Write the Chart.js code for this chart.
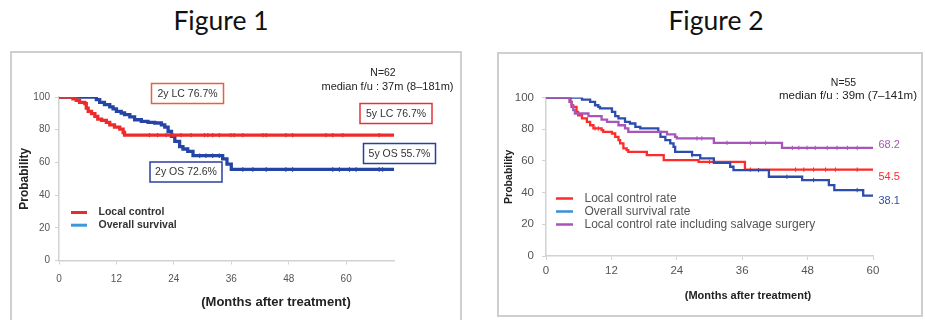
<!DOCTYPE html>
<html>
<head>
<meta charset="utf-8">
<script src="https://cdn.jsdelivr.net/npm/chart.js@4.4.1/dist/chart.umd.min.js"></script>
<style>
  body { margin: 0; width: 925px; height: 320px; background: #fff; position: relative; overflow: hidden; }
  .fig { position: absolute; width: 200px; text-align: center; font-family: Lato, "Open Sans", sans-serif; font-size: 26.5px; line-height: 1.2; color: #111; }
  .box { position: absolute; border: 2px solid #cfcfcf; box-sizing: border-box; }
  canvas { position: absolute; }
</style>
</head>
<body>
<div class="fig" style="left:121px; top:5px;">Figure 1</div>
<div class="fig" style="left:616px; top:5px;">Figure 2</div>
<div class="box" style="left:10px; top:51px; width:452px; height:290px;"></div>
<div class="box" style="left:497px; top:52px; width:426px; height:265px;"></div>
<canvas id="c1" width="452" height="269" style="left:10px; top:51px;"></canvas>
<canvas id="c2" width="426" height="265" style="left:497px; top:52px;"></canvas>
<script>
// ---- Figure 1 data (months, % probability) ----
const lcTime1 = [0, 2.9, 3.6, 4.3, 5.4, 5.7, 6.1, 6.8, 7.5, 8.1, 8.9, 9.9, 10.6, 11.6, 12.7, 13.4, 13.7, 70];
const lcSurv1 = [100, 98.8, 97.9, 96.7, 95.9, 93.2, 91.2, 89.8, 88.1, 86.5, 85.7, 84.5, 83.0, 81.6, 80.4, 78.3, 76.7, 76.7];
const lcCens1 = [18.9, 20.6, 22.4, 23.8, 25.5, 27.6, 30.4, 31.1, 32.1, 33.5, 35.9, 36.6, 38.4, 42.6, 43.3, 47.4, 48.8, 55.8, 57.2, 59.3, 66.9];
const osTime1 = [0, 7.8, 8.5, 9.5, 10.6, 11.3, 12.0, 13.0, 13.7, 14.8, 15.8, 17.2, 18.6, 20.0, 21.4, 22.1, 22.8, 23.5, 24.2, 25.2, 25.9, 26.9, 28.0, 34.2, 35.1, 36.0, 70];
const osSurv1 = [100, 98.4, 96.7, 95.3, 93.9, 92.7, 91.2, 90.2, 89.2, 87.8, 86.1, 85.1, 84.5, 84.1, 83.0, 81.6, 78.9, 75.9, 72.8, 69.7, 68.2, 66.7, 64.1, 62.2, 59.0, 55.7, 55.7];
const osCens1 = [29.4, 30.7, 32.1, 33.5, 38.4, 40.5, 43.3, 47.4, 48.8, 57.2, 58.6, 60.7, 62.1, 66.9, 67.6];
const labels1 = ['Local control', 'Overall survival'];
const boxLabels1 = ['2y LC 76.7%', '5y LC 76.7%', '2y OS 72.6%', '5y OS 55.7%'];
const header1 = ['N=62', 'median f/u : 37m (8\u2013181m)'];

// ---- Figure 2 data ----
const lcTime2 = [0, 4.5, 4.7, 5.6, 5.9, 6.6, 7.5, 8.1, 8.7, 10.2, 10.5, 12.1, 12.7, 13.3, 13.6, 14.2, 14.8, 15.1, 18.5, 21.6, 28.0, 36.5, 60];
const lcSurv2 = [100, 97.2, 94.1, 90.9, 88.8, 86.8, 84.6, 82.5, 80.5, 79.4, 78.3, 77.3, 75.2, 73.1, 71.0, 67.9, 66.8, 65.7, 63.6, 60.5, 59.4, 54.5, 54.5];
const lcCens2 = [9.0, 9.6, 30.0, 37.5, 45.8, 47.3, 49.1, 51.3, 53.1, 57.1];
const osTime2 = [0, 6.6, 8.1, 9.0, 9.6, 9.9, 12.1, 12.7, 13.3, 14.5, 15.4, 16.4, 17.3, 20.6, 21.0, 21.9, 22.8, 23.4, 23.7, 26.8, 28.3, 30.8, 33.8, 34.4, 40.9, 47.0, 51.9, 52.9, 58.2, 60];
const osSurv2 = [100, 98.7, 97.2, 95.1, 94.1, 93.1, 90.9, 88.2, 86.8, 84.6, 83.6, 81.5, 80.5, 78.3, 75.2, 73.1, 71.0, 68.9, 65.7, 63.6, 61.6, 58.8, 56.3, 54.2, 50.0, 47.9, 44.7, 41.6, 38.1, 38.1];
const osCens2 = [26.8, 39.0, 44.2, 49.1, 57.1];
const saTime2 = [0, 4.3, 4.7, 5.0, 5.3, 7.8, 10.2, 11.2, 13.3, 14.5, 15.1, 22.2, 23.7, 24.0, 30.8, 43.3, 60];
const saSurv2 = [100, 97.2, 95.1, 92.0, 89.9, 88.2, 86.1, 84.6, 82.5, 80.5, 78.3, 76.7, 75.2, 74.2, 71.4, 68.2, 68.2];
const saCens2 = [27.7, 28.6, 33.2, 37.5, 40.3, 45.2, 46.4, 47.9, 49.4, 51.6, 53.4, 55.3, 57.1];
const labels2 = ['Local control rate', 'Overall survival rate', 'Local control rate including salvage surgery'];
const header2 = ['N=55', 'median f/u : 39m (7\u2013141m)'];

const xTicks = [0, 12, 24, 36, 48, 60];
const yTicks = [0, 20, 40, 60, 80, 100];
const xTitle = '(Months after treatment)';
const yTitle = 'Probability';

const FONT = '"Liberation Sans", Arial, sans-serif';
Chart.defaults.font.family = FONT;

function stepData(times, surv) {
  return times.map((t, i) => ({ x: t, y: surv[i] }));
}
// survival value in force at time t (for censor ticks)
function survAt(times, surv, t) {
  let v = surv[0];
  for (let i = 0; i < times.length; i++) if (times[i] <= t) v = surv[i];
  return v;
}
function censData(cens, times, surv) {
  return cens.map(t => ({ x: t, y: survAt(times, surv, t) }));
}
function curve(label, times, surv, color, w) {
  return { label: label, data: stepData(times, surv), stepped: true, borderColor: color,
           borderWidth: w, pointRadius: 0, fill: false };
}
function ticks(label, cens, times, surv, color, w) {
  return { label: label, data: censData(cens, times, surv), showLine: false, pointStyle: 'line',
           pointRotation: 90, pointRadius: 2.2, pointBorderWidth: w, borderColor: color, pointBorderColor: color };
}
function axes(xMax, o) {
  return {
    x: {
      type: 'linear', min: 0, max: xMax,
      afterBuildTicks: s => { s.ticks = xTicks.map(v => ({ value: v })); },
      afterFit: s => { s.height = 30; },
      grid: { drawOnChartArea: false, tickLength: 4, color: '#d2d2d2' },
      border: { color: '#d2d2d2', width: 1.5 },
      ticks: { padding: o.xPad, color: '#555', font: { size: o.tickSize }, maxRotation: 0, autoSkip: false }
    },
    y: {
      min: 0, max: 100,
      afterBuildTicks: s => { s.ticks = yTicks.map(v => ({ value: v })); },
      afterFit: s => { s.width = 49; },
      grid: { drawOnChartArea: false, tickLength: 4, color: '#d2d2d2' },
      border: { color: '#d2d2d2', width: 1.5 },
      ticks: { padding: o.yPad, color: '#555', font: { size: o.tickSize } },
      title: { display: true, text: yTitle, color: '#222', font: { size: o.yTitleSize, weight: 'bold' },
               padding: { top: o.yTitlePad, bottom: 0 } }
    }
  };
}

const RED1 = '#ee2b2b', BLUE1 = '#2545a6', LEG_BLUE1 = '#3a9ad9';
const RED2 = '#ff2a2a', BLUE2 = '#2c4dae', PURPLE2 = '#a755b8', LEG_BLUE2 = '#3b8fd8';

const fig1Notes = {
  id: 'fig1Notes',
  afterDraw(chart) {
    const ctx = chart.ctx;
    ctx.save();
    ctx.textBaseline = 'middle';
    ctx.textAlign = 'center';
    ctx.fillStyle = '#222';
    ctx.font = '10.5px ' + FONT;
    ctx.fillText(header1[0], 373, 22.5);
    ctx.font = '11px ' + FONT;
    ctx.fillText(header1[1], 377.5, 36);
    // boxed rates
    const boxes = [[141.5, 32.5, '#e9603e'], [350, 52.5, '#e23434'], [140, 111, '#2b3f9e'], [353.5, 92.5, '#2b3f9e']];
    boxes.forEach(([x, y, c], i) => {
      ctx.fillStyle = '#fff';
      ctx.fillRect(x, y, 72, 20);
      ctx.strokeStyle = c;
      ctx.lineWidth = 1.5;
      ctx.strokeRect(x, y, 72, 20);
      ctx.fillStyle = '#333';
      ctx.font = '10.5px ' + FONT;
      ctx.fillText(boxLabels1[i], x + 36, y + 10.5);
    });
    // legend
    const legColors = [RED1, LEG_BLUE1];
    ctx.textAlign = 'left';
    ctx.font = 'bold 10.5px ' + FONT;
    labels1.forEach((lab, i) => {
      const y = 161.5 + i * 12.7;
      ctx.strokeStyle = legColors[i];
      ctx.lineWidth = 3;
      ctx.beginPath(); ctx.moveTo(61, y); ctx.lineTo(77, y); ctx.stroke();
      ctx.fillStyle = '#333';
      ctx.fillText(lab, 88.5, y);
    });
    // x title
    ctx.textAlign = 'center';
    ctx.fillStyle = '#222';
    ctx.font = 'bold 13px ' + FONT;
    ctx.fillText(xTitle, 266, 251);
    ctx.restore();
  }
};

const fig2Notes = {
  id: 'fig2Notes',
  afterDraw(chart) {
    const ctx = chart.ctx, xs = chart.scales.x, ys = chart.scales.y;
    ctx.save();
    ctx.textBaseline = 'middle';
    ctx.textAlign = 'center';
    ctx.fillStyle = '#222';
    ctx.font = '10.5px ' + FONT;
    ctx.fillText(header2[0], 346.5, 31);
    ctx.font = '11.5px ' + FONT;
    ctx.fillText(header2[1], 351, 44);
    // end-of-curve values
    const ends = [[saTime2, saSurv2, PURPLE2, -3], [lcTime2, lcSurv2, RED2, 7.5], [osTime2, osSurv2, BLUE2, 5.5]];
    ctx.textAlign = 'left';
    ctx.font = '11px ' + FONT;
    ends.forEach(([t, s, c, dy]) => {
      const last = s[s.length - 1];
      ctx.fillStyle = c;
      ctx.fillText(last.toFixed(1), xs.getPixelForValue(t[t.length - 1]) + 5.5, ys.getPixelForValue(last) + dy);
    });
    // legend
    const legColors = [RED2, LEG_BLUE2, PURPLE2];
    ctx.font = '12px ' + FONT;
    labels2.forEach((lab, i) => {
      const y = 146.5 + i * 13;
      ctx.strokeStyle = legColors[i];
      ctx.lineWidth = 2.5;
      ctx.beginPath(); ctx.moveTo(59, y); ctx.lineTo(76, y); ctx.stroke();
      ctx.fillStyle = '#555';
      ctx.fillText(lab, 87.5, y);
    });
    ctx.textAlign = 'center';
    ctx.fillStyle = '#222';
    ctx.font = 'bold 11px ' + FONT;
    ctx.fillText(xTitle, 251, 244);
    ctx.restore();
  }
};

new Chart(document.getElementById('c1'), {
  type: 'line',
  data: {
    datasets: [
      curve(labels1[0], lcTime1, lcSurv1, RED1, 3.3),
      ticks('lc censored', lcCens1, lcTime1, lcSurv1, RED1, 1.2),
      curve(labels1[1], osTime1, osSurv1, BLUE1, 3.3),
      ticks('os censored', osCens1, osTime1, osSurv1, BLUE1, 1.2)
    ]
  },
  options: {
    responsive: false,
    animation: false,
    layout: { padding: { left: 0, top: 46, right: 68, bottom: 29.5 } },
    scales: axes(70, { xPad: 9, yPad: 5, tickSize: 10, yTitleSize: 12, yTitlePad: 7 }),
    plugins: { legend: { display: false }, tooltip: { enabled: false } }
  },
  plugins: [fig1Notes]
});

new Chart(document.getElementById('c2'), {
  type: 'line',
  data: {
    datasets: [
      curve(labels2[2], saTime2, saSurv2, PURPLE2, 2.3),
      ticks('sa censored', saCens2, saTime2, saSurv2, PURPLE2, 1),
      curve(labels2[1], osTime2, osSurv2, BLUE2, 2.3),
      ticks('os censored', osCens2, osTime2, osSurv2, BLUE2, 1),
      curve(labels2[0], lcTime2, lcSurv2, RED2, 2.3),
      ticks('lc censored', lcCens2, lcTime2, lcSurv2, RED2, 1)
    ]
  },
  options: {
    responsive: false,
    animation: false,
    layout: { padding: { left: 0, top: 45.5, right: 50, bottom: 31 } },
    scales: axes(60, { xPad: 4, yPad: 8, tickSize: 11.5, yTitleSize: 10.5, yTitlePad: 6 }),
    plugins: { legend: { display: false }, tooltip: { enabled: false } }
  },
  plugins: [fig2Notes]
});
</script>
</body>
</html>
